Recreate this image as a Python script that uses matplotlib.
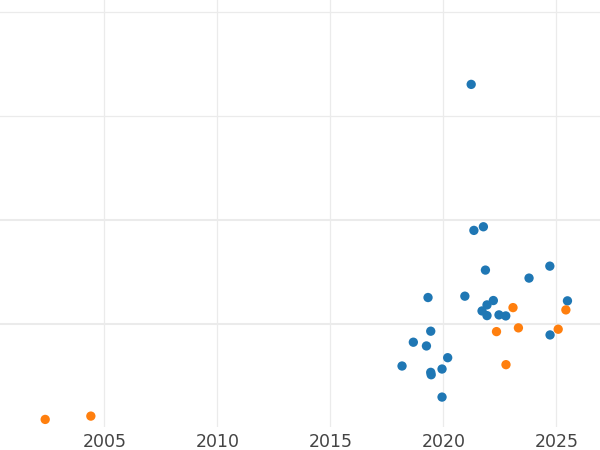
import matplotlib
matplotlib.use("Agg")
import matplotlib.pyplot as plt

# Series data (year, relative value on hidden y scale)
blue_year = [2021.23, 2021.35, 2021.77, 2021.86, 2023.79, 2024.71, 2019.32, 2020.95,
             2022.21, 2021.93, 2021.71, 2021.93, 2022.46, 2022.76, 2025.49, 2019.44,
             2024.72, 2018.67, 2019.25, 2020.19, 2018.17, 2019.94, 2019.44, 2019.46,
             2019.94]
blue_value = [3.303, 1.898, 1.933, 1.516, 1.439, 1.554, 1.252, 1.265,
              1.223, 1.181, 1.123, 1.078, 1.085, 1.075, 1.220, 0.928,
              0.892, 0.822, 0.786, 0.673, 0.593, 0.564, 0.532, 0.509,
              0.294]
orange_year = [2002.38, 2004.40, 2023.08, 2025.42, 2022.35, 2023.32, 2025.08, 2022.77]
orange_value = [0.079, 0.111, 1.155, 1.133, 0.924, 0.960, 0.947, 0.606]

xticks = [2005, 2010, 2015, 2020, 2025]
xtick_labels = ["2005", "2010", "2015", "2020", "2025"]
ygrid_major = [1, 2]
ygrid_minor = [3, 4]

fig = plt.figure(figsize=(6, 4.5), dpi=100)
ax = fig.add_axes([0, 23.3 / 450, 1, 426.7 / 450])

for y in ygrid_major:
    ax.axhline(y, color="#ebebeb", lw=1.5, zorder=0)
for y in ygrid_minor:
    ax.axhline(y, color="#ebebeb", lw=0.9, zorder=0)
for x in xticks:
    ax.axvline(x, color="#ebebeb", lw=0.9, zorder=0)

ax.scatter(blue_year, blue_value, s=45, color="#1f77b4", edgecolors="none", zorder=2)
ax.scatter(orange_year, orange_value, s=45, color="#ff7f0e", edgecolors="none", zorder=3)

ax.set_xlim(2000.38, 2026.93)
ax.set_ylim(0.009, 4.115)
ax.set_xticks(xticks)
ax.set_xticklabels(xtick_labels)
ax.set_yticks([])
ax.tick_params(axis="x", length=0, pad=4.5, labelsize=12.5, labelcolor="#444444")
for s in ax.spines.values():
    s.set_visible(False)

fig.savefig("out.png", dpi=100)
